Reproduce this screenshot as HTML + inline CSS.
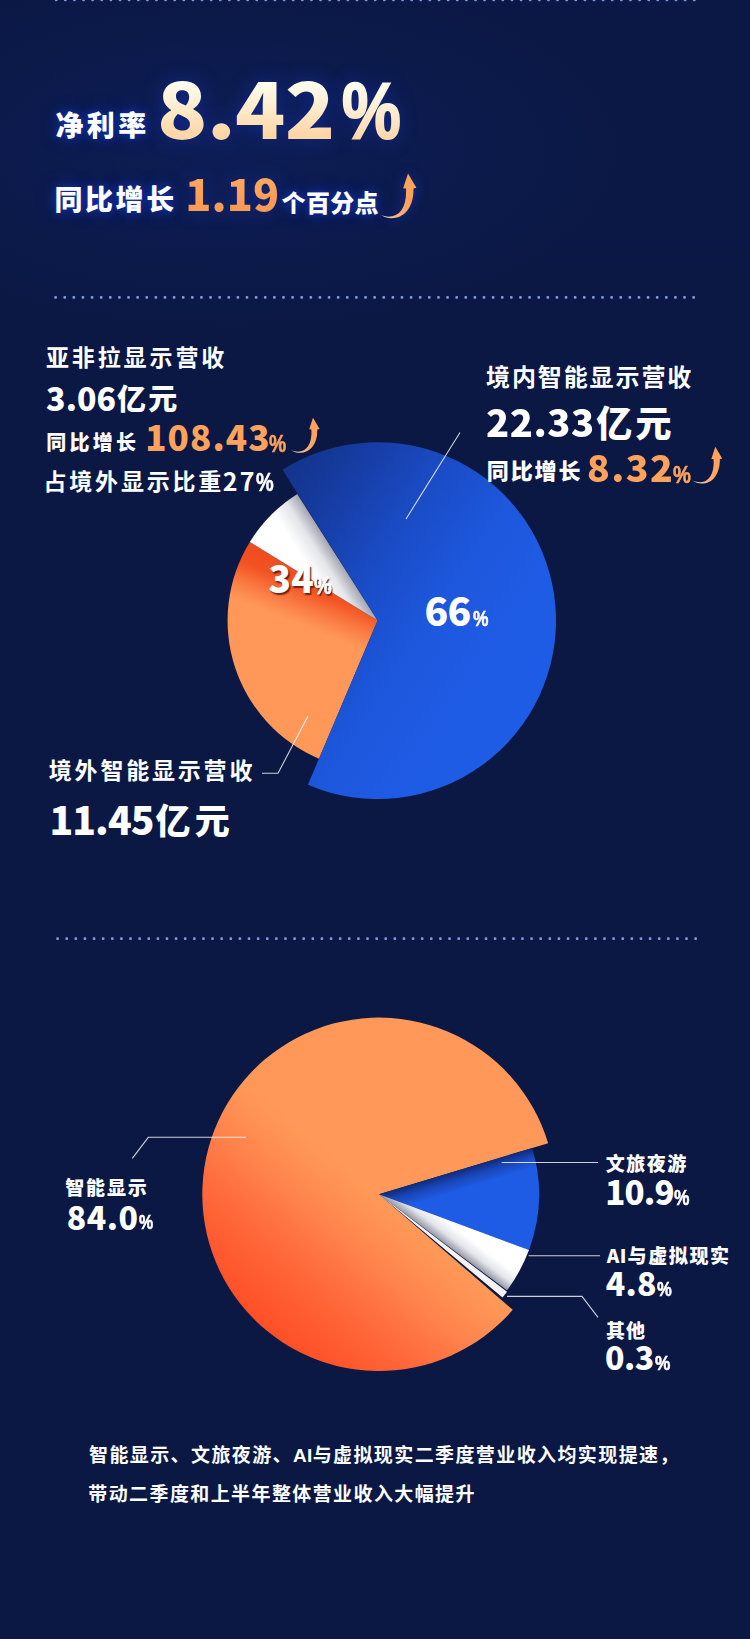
<!DOCTYPE html>
<html lang="zh-CN"><head><meta charset="utf-8"><title>数据图</title>
<style>
html,body{margin:0;padding:0}
body{width:750px;height:1639px;position:relative;overflow:hidden;background:#0b1844;font-family:"Liberation Sans","Noto Sans CJK SC",sans-serif;color:#fff}
.bg{position:absolute;left:0;top:0;width:750px;height:1639px;background:
 radial-gradient(ellipse 400px 180px at 230px 150px, rgba(22,50,150,0.2), rgba(22,50,150,0) 100%),
 linear-gradient(180deg,#0b1845 0%,#0b1844 50%,#0b1844 100%)}
.t{position:absolute;white-space:nowrap;line-height:1;font-weight:700}
.d{font-family:"Noto Sans CJK SC","Liberation Sans",sans-serif;font-weight:900}
.m{font-weight:500}
.k{font-weight:900}
.s1{-webkit-text-stroke:1px currentColor}
.s05{-webkit-text-stroke:0.5px currentColor}
.o{color:#ffa25c}
.glow{text-shadow:0 0 9px rgba(25,60,225,0.7),0 0 18px rgba(25,60,225,0.4)}
.big{background:linear-gradient(180deg,#fffdf0 18%,#ffeaca 55%,#ffd6a6 88%);-webkit-background-clip:text;background-clip:text;color:transparent;filter:drop-shadow(0 0 10px rgba(25,60,225,0.4))}
.og{filter:drop-shadow(0 0 9px rgba(25,60,225,0.4));background:linear-gradient(180deg,#ffa860 10%,#fb9a55 90%);-webkit-background-clip:text;background-clip:text;color:transparent}
.sh{text-shadow:1.5px 2px 1.2px rgba(90,25,10,0.85)}
</style></head><body>
<div class="bg"></div>
<svg width="750" height="1639" viewBox="0 0 750 1639" style="position:absolute;left:0;top:0">
<defs>
<linearGradient id="g1b" gradientUnits="userSpaceOnUse" x1="255.0" y1="465.0" x2="520.0" y2="640.0"><stop offset="0" stop-color="#122e86"/><stop offset="0.12" stop-color="#14358f"/><stop offset="0.3" stop-color="#173fa9"/><stop offset="0.48" stop-color="#1a4bc4"/><stop offset="0.72" stop-color="#1d57dc"/><stop offset="1" stop-color="#1f5ce6"/></linearGradient>
<linearGradient id="g1o" gradientUnits="userSpaceOnUse" x1="388.7" y1="592.8" x2="365.7" y2="650.3"><stop offset="0" stop-color="#ee481d"/><stop offset="0.42" stop-color="#f25323"/><stop offset="0.72" stop-color="#fa7a42"/><stop offset="1" stop-color="#ff9858"/></linearGradient>
<linearGradient id="g1w" gradientUnits="userSpaceOnUse" x1="377.6" y1="620.6" x2="352.3" y2="636.7"><stop offset="0" stop-color="#a3a5b0"/><stop offset="0.45" stop-color="#e4e5ea"/><stop offset="1" stop-color="#ffffff"/></linearGradient>
<linearGradient id="g2o" gradientUnits="userSpaceOnUse" x1="379.0" y1="1194.3" x2="262.0" y2="1331.0"><stop offset="0" stop-color="#ff9858"/><stop offset="0.06" stop-color="#ff9656"/><stop offset="0.28" stop-color="#ff864e"/><stop offset="0.52" stop-color="#ff6f3f"/><stop offset="0.8" stop-color="#ff5a30"/><stop offset="1" stop-color="#ff4e25"/></linearGradient>
<linearGradient id="g2b" gradientUnits="userSpaceOnUse" x1="379.0" y1="1194.3" x2="384.8" y2="1213.4"><stop offset="0" stop-color="#0f2a78"/><stop offset="0.45" stop-color="#1947ba"/><stop offset="1" stop-color="#1f5ce6"/></linearGradient>
<linearGradient id="g2w" gradientUnits="userSpaceOnUse" x1="379.0" y1="1194.3" x2="390.4" y2="1179.1"><stop offset="0" stop-color="#9799a5"/><stop offset="0.45" stop-color="#e3e4ea"/><stop offset="1" stop-color="#ffffff"/></linearGradient>
<linearGradient id="arr" gradientUnits="userSpaceOnUse" x1="0" y1="0" x2="30" y2="-10"><stop offset="0" stop-color="#fff0e4"/><stop offset="0.45" stop-color="#ffb57c"/><stop offset="1" stop-color="#ffa25c"/></linearGradient>
</defs>
<g fill="#7f98e2"><rect x="54.85" y="-1.55" width="2.7" height="2.7" rx="0.9"/><rect x="63.96" y="-1.55" width="2.7" height="2.7" rx="0.9"/><rect x="73.08" y="-1.55" width="2.7" height="2.7" rx="0.9"/><rect x="82.20" y="-1.55" width="2.7" height="2.7" rx="0.9"/><rect x="91.31" y="-1.55" width="2.7" height="2.7" rx="0.9"/><rect x="100.43" y="-1.55" width="2.7" height="2.7" rx="0.9"/><rect x="109.54" y="-1.55" width="2.7" height="2.7" rx="0.9"/><rect x="118.66" y="-1.55" width="2.7" height="2.7" rx="0.9"/><rect x="127.77" y="-1.55" width="2.7" height="2.7" rx="0.9"/><rect x="136.89" y="-1.55" width="2.7" height="2.7" rx="0.9"/><rect x="146.00" y="-1.55" width="2.7" height="2.7" rx="0.9"/><rect x="155.12" y="-1.55" width="2.7" height="2.7" rx="0.9"/><rect x="164.23" y="-1.55" width="2.7" height="2.7" rx="0.9"/><rect x="173.34" y="-1.55" width="2.7" height="2.7" rx="0.9"/><rect x="182.46" y="-1.55" width="2.7" height="2.7" rx="0.9"/><rect x="191.58" y="-1.55" width="2.7" height="2.7" rx="0.9"/><rect x="200.69" y="-1.55" width="2.7" height="2.7" rx="0.9"/><rect x="209.81" y="-1.55" width="2.7" height="2.7" rx="0.9"/><rect x="218.92" y="-1.55" width="2.7" height="2.7" rx="0.9"/><rect x="228.03" y="-1.55" width="2.7" height="2.7" rx="0.9"/><rect x="237.15" y="-1.55" width="2.7" height="2.7" rx="0.9"/><rect x="246.27" y="-1.55" width="2.7" height="2.7" rx="0.9"/><rect x="255.38" y="-1.55" width="2.7" height="2.7" rx="0.9"/><rect x="264.50" y="-1.55" width="2.7" height="2.7" rx="0.9"/><rect x="273.61" y="-1.55" width="2.7" height="2.7" rx="0.9"/><rect x="282.72" y="-1.55" width="2.7" height="2.7" rx="0.9"/><rect x="291.84" y="-1.55" width="2.7" height="2.7" rx="0.9"/><rect x="300.95" y="-1.55" width="2.7" height="2.7" rx="0.9"/><rect x="310.07" y="-1.55" width="2.7" height="2.7" rx="0.9"/><rect x="319.18" y="-1.55" width="2.7" height="2.7" rx="0.9"/><rect x="328.30" y="-1.55" width="2.7" height="2.7" rx="0.9"/><rect x="337.41" y="-1.55" width="2.7" height="2.7" rx="0.9"/><rect x="346.53" y="-1.55" width="2.7" height="2.7" rx="0.9"/><rect x="355.64" y="-1.55" width="2.7" height="2.7" rx="0.9"/><rect x="364.76" y="-1.55" width="2.7" height="2.7" rx="0.9"/><rect x="373.88" y="-1.55" width="2.7" height="2.7" rx="0.9"/><rect x="382.99" y="-1.55" width="2.7" height="2.7" rx="0.9"/><rect x="392.10" y="-1.55" width="2.7" height="2.7" rx="0.9"/><rect x="401.22" y="-1.55" width="2.7" height="2.7" rx="0.9"/><rect x="410.33" y="-1.55" width="2.7" height="2.7" rx="0.9"/><rect x="419.45" y="-1.55" width="2.7" height="2.7" rx="0.9"/><rect x="428.56" y="-1.55" width="2.7" height="2.7" rx="0.9"/><rect x="437.68" y="-1.55" width="2.7" height="2.7" rx="0.9"/><rect x="446.79" y="-1.55" width="2.7" height="2.7" rx="0.9"/><rect x="455.91" y="-1.55" width="2.7" height="2.7" rx="0.9"/><rect x="465.02" y="-1.55" width="2.7" height="2.7" rx="0.9"/><rect x="474.14" y="-1.55" width="2.7" height="2.7" rx="0.9"/><rect x="483.25" y="-1.55" width="2.7" height="2.7" rx="0.9"/><rect x="492.37" y="-1.55" width="2.7" height="2.7" rx="0.9"/><rect x="501.48" y="-1.55" width="2.7" height="2.7" rx="0.9"/><rect x="510.60" y="-1.55" width="2.7" height="2.7" rx="0.9"/><rect x="519.72" y="-1.55" width="2.7" height="2.7" rx="0.9"/><rect x="528.83" y="-1.55" width="2.7" height="2.7" rx="0.9"/><rect x="537.95" y="-1.55" width="2.7" height="2.7" rx="0.9"/><rect x="547.06" y="-1.55" width="2.7" height="2.7" rx="0.9"/><rect x="556.17" y="-1.55" width="2.7" height="2.7" rx="0.9"/><rect x="565.29" y="-1.55" width="2.7" height="2.7" rx="0.9"/><rect x="574.41" y="-1.55" width="2.7" height="2.7" rx="0.9"/><rect x="583.52" y="-1.55" width="2.7" height="2.7" rx="0.9"/><rect x="592.63" y="-1.55" width="2.7" height="2.7" rx="0.9"/><rect x="601.75" y="-1.55" width="2.7" height="2.7" rx="0.9"/><rect x="610.87" y="-1.55" width="2.7" height="2.7" rx="0.9"/><rect x="619.98" y="-1.55" width="2.7" height="2.7" rx="0.9"/><rect x="629.10" y="-1.55" width="2.7" height="2.7" rx="0.9"/><rect x="638.21" y="-1.55" width="2.7" height="2.7" rx="0.9"/><rect x="647.33" y="-1.55" width="2.7" height="2.7" rx="0.9"/><rect x="656.44" y="-1.55" width="2.7" height="2.7" rx="0.9"/><rect x="665.56" y="-1.55" width="2.7" height="2.7" rx="0.9"/><rect x="674.67" y="-1.55" width="2.7" height="2.7" rx="0.9"/><rect x="683.79" y="-1.55" width="2.7" height="2.7" rx="0.9"/><rect x="692.90" y="-1.55" width="2.7" height="2.7" rx="0.9"/></g>
<g fill="#7f98e2"><rect x="54.25" y="296.05" width="2.7" height="2.7" rx="0.9"/><rect x="63.37" y="296.05" width="2.7" height="2.7" rx="0.9"/><rect x="72.48" y="296.05" width="2.7" height="2.7" rx="0.9"/><rect x="81.59" y="296.05" width="2.7" height="2.7" rx="0.9"/><rect x="90.71" y="296.05" width="2.7" height="2.7" rx="0.9"/><rect x="99.83" y="296.05" width="2.7" height="2.7" rx="0.9"/><rect x="108.94" y="296.05" width="2.7" height="2.7" rx="0.9"/><rect x="118.06" y="296.05" width="2.7" height="2.7" rx="0.9"/><rect x="127.17" y="296.05" width="2.7" height="2.7" rx="0.9"/><rect x="136.28" y="296.05" width="2.7" height="2.7" rx="0.9"/><rect x="145.40" y="296.05" width="2.7" height="2.7" rx="0.9"/><rect x="154.52" y="296.05" width="2.7" height="2.7" rx="0.9"/><rect x="163.63" y="296.05" width="2.7" height="2.7" rx="0.9"/><rect x="172.75" y="296.05" width="2.7" height="2.7" rx="0.9"/><rect x="181.86" y="296.05" width="2.7" height="2.7" rx="0.9"/><rect x="190.97" y="296.05" width="2.7" height="2.7" rx="0.9"/><rect x="200.09" y="296.05" width="2.7" height="2.7" rx="0.9"/><rect x="209.21" y="296.05" width="2.7" height="2.7" rx="0.9"/><rect x="218.32" y="296.05" width="2.7" height="2.7" rx="0.9"/><rect x="227.44" y="296.05" width="2.7" height="2.7" rx="0.9"/><rect x="236.55" y="296.05" width="2.7" height="2.7" rx="0.9"/><rect x="245.66" y="296.05" width="2.7" height="2.7" rx="0.9"/><rect x="254.78" y="296.05" width="2.7" height="2.7" rx="0.9"/><rect x="263.89" y="296.05" width="2.7" height="2.7" rx="0.9"/><rect x="273.01" y="296.05" width="2.7" height="2.7" rx="0.9"/><rect x="282.12" y="296.05" width="2.7" height="2.7" rx="0.9"/><rect x="291.24" y="296.05" width="2.7" height="2.7" rx="0.9"/><rect x="300.36" y="296.05" width="2.7" height="2.7" rx="0.9"/><rect x="309.47" y="296.05" width="2.7" height="2.7" rx="0.9"/><rect x="318.58" y="296.05" width="2.7" height="2.7" rx="0.9"/><rect x="327.70" y="296.05" width="2.7" height="2.7" rx="0.9"/><rect x="336.81" y="296.05" width="2.7" height="2.7" rx="0.9"/><rect x="345.93" y="296.05" width="2.7" height="2.7" rx="0.9"/><rect x="355.05" y="296.05" width="2.7" height="2.7" rx="0.9"/><rect x="364.16" y="296.05" width="2.7" height="2.7" rx="0.9"/><rect x="373.28" y="296.05" width="2.7" height="2.7" rx="0.9"/><rect x="382.39" y="296.05" width="2.7" height="2.7" rx="0.9"/><rect x="391.50" y="296.05" width="2.7" height="2.7" rx="0.9"/><rect x="400.62" y="296.05" width="2.7" height="2.7" rx="0.9"/><rect x="409.74" y="296.05" width="2.7" height="2.7" rx="0.9"/><rect x="418.85" y="296.05" width="2.7" height="2.7" rx="0.9"/><rect x="427.97" y="296.05" width="2.7" height="2.7" rx="0.9"/><rect x="437.08" y="296.05" width="2.7" height="2.7" rx="0.9"/><rect x="446.19" y="296.05" width="2.7" height="2.7" rx="0.9"/><rect x="455.31" y="296.05" width="2.7" height="2.7" rx="0.9"/><rect x="464.43" y="296.05" width="2.7" height="2.7" rx="0.9"/><rect x="473.54" y="296.05" width="2.7" height="2.7" rx="0.9"/><rect x="482.66" y="296.05" width="2.7" height="2.7" rx="0.9"/><rect x="491.77" y="296.05" width="2.7" height="2.7" rx="0.9"/><rect x="500.88" y="296.05" width="2.7" height="2.7" rx="0.9"/><rect x="510.00" y="296.05" width="2.7" height="2.7" rx="0.9"/><rect x="519.12" y="296.05" width="2.7" height="2.7" rx="0.9"/><rect x="528.23" y="296.05" width="2.7" height="2.7" rx="0.9"/><rect x="537.35" y="296.05" width="2.7" height="2.7" rx="0.9"/><rect x="546.46" y="296.05" width="2.7" height="2.7" rx="0.9"/><rect x="555.57" y="296.05" width="2.7" height="2.7" rx="0.9"/><rect x="564.69" y="296.05" width="2.7" height="2.7" rx="0.9"/><rect x="573.81" y="296.05" width="2.7" height="2.7" rx="0.9"/><rect x="582.92" y="296.05" width="2.7" height="2.7" rx="0.9"/><rect x="592.03" y="296.05" width="2.7" height="2.7" rx="0.9"/><rect x="601.15" y="296.05" width="2.7" height="2.7" rx="0.9"/><rect x="610.26" y="296.05" width="2.7" height="2.7" rx="0.9"/><rect x="619.38" y="296.05" width="2.7" height="2.7" rx="0.9"/><rect x="628.50" y="296.05" width="2.7" height="2.7" rx="0.9"/><rect x="637.61" y="296.05" width="2.7" height="2.7" rx="0.9"/><rect x="646.73" y="296.05" width="2.7" height="2.7" rx="0.9"/><rect x="655.84" y="296.05" width="2.7" height="2.7" rx="0.9"/><rect x="664.96" y="296.05" width="2.7" height="2.7" rx="0.9"/><rect x="674.07" y="296.05" width="2.7" height="2.7" rx="0.9"/><rect x="683.19" y="296.05" width="2.7" height="2.7" rx="0.9"/><rect x="692.30" y="296.05" width="2.7" height="2.7" rx="0.9"/></g>
<g fill="#7f98e2"><rect x="56.25" y="937.25" width="2.7" height="2.7" rx="0.9"/><rect x="65.37" y="937.25" width="2.7" height="2.7" rx="0.9"/><rect x="74.48" y="937.25" width="2.7" height="2.7" rx="0.9"/><rect x="83.59" y="937.25" width="2.7" height="2.7" rx="0.9"/><rect x="92.71" y="937.25" width="2.7" height="2.7" rx="0.9"/><rect x="101.83" y="937.25" width="2.7" height="2.7" rx="0.9"/><rect x="110.94" y="937.25" width="2.7" height="2.7" rx="0.9"/><rect x="120.06" y="937.25" width="2.7" height="2.7" rx="0.9"/><rect x="129.17" y="937.25" width="2.7" height="2.7" rx="0.9"/><rect x="138.28" y="937.25" width="2.7" height="2.7" rx="0.9"/><rect x="147.40" y="937.25" width="2.7" height="2.7" rx="0.9"/><rect x="156.52" y="937.25" width="2.7" height="2.7" rx="0.9"/><rect x="165.63" y="937.25" width="2.7" height="2.7" rx="0.9"/><rect x="174.75" y="937.25" width="2.7" height="2.7" rx="0.9"/><rect x="183.86" y="937.25" width="2.7" height="2.7" rx="0.9"/><rect x="192.97" y="937.25" width="2.7" height="2.7" rx="0.9"/><rect x="202.09" y="937.25" width="2.7" height="2.7" rx="0.9"/><rect x="211.21" y="937.25" width="2.7" height="2.7" rx="0.9"/><rect x="220.32" y="937.25" width="2.7" height="2.7" rx="0.9"/><rect x="229.44" y="937.25" width="2.7" height="2.7" rx="0.9"/><rect x="238.55" y="937.25" width="2.7" height="2.7" rx="0.9"/><rect x="247.66" y="937.25" width="2.7" height="2.7" rx="0.9"/><rect x="256.78" y="937.25" width="2.7" height="2.7" rx="0.9"/><rect x="265.89" y="937.25" width="2.7" height="2.7" rx="0.9"/><rect x="275.01" y="937.25" width="2.7" height="2.7" rx="0.9"/><rect x="284.12" y="937.25" width="2.7" height="2.7" rx="0.9"/><rect x="293.24" y="937.25" width="2.7" height="2.7" rx="0.9"/><rect x="302.36" y="937.25" width="2.7" height="2.7" rx="0.9"/><rect x="311.47" y="937.25" width="2.7" height="2.7" rx="0.9"/><rect x="320.58" y="937.25" width="2.7" height="2.7" rx="0.9"/><rect x="329.70" y="937.25" width="2.7" height="2.7" rx="0.9"/><rect x="338.81" y="937.25" width="2.7" height="2.7" rx="0.9"/><rect x="347.93" y="937.25" width="2.7" height="2.7" rx="0.9"/><rect x="357.05" y="937.25" width="2.7" height="2.7" rx="0.9"/><rect x="366.16" y="937.25" width="2.7" height="2.7" rx="0.9"/><rect x="375.28" y="937.25" width="2.7" height="2.7" rx="0.9"/><rect x="384.39" y="937.25" width="2.7" height="2.7" rx="0.9"/><rect x="393.50" y="937.25" width="2.7" height="2.7" rx="0.9"/><rect x="402.62" y="937.25" width="2.7" height="2.7" rx="0.9"/><rect x="411.74" y="937.25" width="2.7" height="2.7" rx="0.9"/><rect x="420.85" y="937.25" width="2.7" height="2.7" rx="0.9"/><rect x="429.97" y="937.25" width="2.7" height="2.7" rx="0.9"/><rect x="439.08" y="937.25" width="2.7" height="2.7" rx="0.9"/><rect x="448.19" y="937.25" width="2.7" height="2.7" rx="0.9"/><rect x="457.31" y="937.25" width="2.7" height="2.7" rx="0.9"/><rect x="466.43" y="937.25" width="2.7" height="2.7" rx="0.9"/><rect x="475.54" y="937.25" width="2.7" height="2.7" rx="0.9"/><rect x="484.66" y="937.25" width="2.7" height="2.7" rx="0.9"/><rect x="493.77" y="937.25" width="2.7" height="2.7" rx="0.9"/><rect x="502.88" y="937.25" width="2.7" height="2.7" rx="0.9"/><rect x="512.00" y="937.25" width="2.7" height="2.7" rx="0.9"/><rect x="521.12" y="937.25" width="2.7" height="2.7" rx="0.9"/><rect x="530.23" y="937.25" width="2.7" height="2.7" rx="0.9"/><rect x="539.35" y="937.25" width="2.7" height="2.7" rx="0.9"/><rect x="548.46" y="937.25" width="2.7" height="2.7" rx="0.9"/><rect x="557.57" y="937.25" width="2.7" height="2.7" rx="0.9"/><rect x="566.69" y="937.25" width="2.7" height="2.7" rx="0.9"/><rect x="575.81" y="937.25" width="2.7" height="2.7" rx="0.9"/><rect x="584.92" y="937.25" width="2.7" height="2.7" rx="0.9"/><rect x="594.03" y="937.25" width="2.7" height="2.7" rx="0.9"/><rect x="603.15" y="937.25" width="2.7" height="2.7" rx="0.9"/><rect x="612.26" y="937.25" width="2.7" height="2.7" rx="0.9"/><rect x="621.38" y="937.25" width="2.7" height="2.7" rx="0.9"/><rect x="630.50" y="937.25" width="2.7" height="2.7" rx="0.9"/><rect x="639.61" y="937.25" width="2.7" height="2.7" rx="0.9"/><rect x="648.73" y="937.25" width="2.7" height="2.7" rx="0.9"/><rect x="657.84" y="937.25" width="2.7" height="2.7" rx="0.9"/><rect x="666.96" y="937.25" width="2.7" height="2.7" rx="0.9"/><rect x="676.07" y="937.25" width="2.7" height="2.7" rx="0.9"/><rect x="685.19" y="937.25" width="2.7" height="2.7" rx="0.9"/><rect x="694.30" y="937.25" width="2.7" height="2.7" rx="0.9"/></g>
<path d="M377.60,620.60 L318.99,758.68 A150,150 0 0 1 249.84,542.00 Z" fill="url(#g1o)"/>
<path d="M377.60,620.60 L249.84,542.00 A150,150 0 0 1 297.23,493.95 Z" fill="url(#g1w)"/>
<path d="M377.60,620.60 L282.53,469.64 A178.4,178.4 0 1 1 307.89,784.82 Z" fill="url(#g1b)"/>
<path d="M379.00,1194.30 L512.76,1309.76 A176.7,176.7 0 1 1 548.16,1143.23 Z" fill="url(#g2o)"/>
<path d="M379.00,1194.30 L532.17,1148.05 A160,160 0 0 1 528.97,1250.07 Z" fill="url(#g2b)"/>
<path d="M379.00,1194.30 L528.97,1250.07 A160,160 0 0 1 506.95,1290.37 Z" fill="url(#g2w)"/>
<path d="M379.00,1194.30 L507.07,1291.86 A161,161 0 0 1 502.51,1297.57 Z" fill="#f4f4f6"/>
<g fill="none" stroke="#ffffff" stroke-width="1.1" stroke-opacity="0.8">
<path d="M406,519 L460,432.5"/>
<path d="M262,773.2 H278 L308,716"/>
<path d="M132.3,1158.3 L148.3,1137.3 H246"/>
<path d="M501.6,1162.5 H598"/>
<path d="M528.6,1255.7 H600"/>
<path d="M507,1296.4 H582 L598,1317.3"/>
</g>
<g style="filter:drop-shadow(0 0 6px rgba(25,60,225,0.6))"><path transform="translate(379.6,214.6) scale(1)" d="M0,0 C15.4,9.4 34.4,0.4 33.9,-26.1 L36.8,-26.8 L28.4,-41.2 L23.6,-26.4 L26.4,-26.1 C27.8,-2.6 15.4,6.6 0,0 Z" fill="url(#arr)"/></g>
<path transform="translate(290.7,450) scale(0.785)" d="M0,0 C15.4,9.4 34.4,0.4 33.9,-26.1 L36.8,-26.8 L28.4,-41.2 L23.6,-26.4 L26.4,-26.1 C27.8,-2.6 15.4,6.6 0,0 Z" fill="url(#arr)"/>
<path transform="translate(692,480.6) scale(0.82)" d="M0,0 C15.4,9.4 34.4,0.4 33.9,-26.1 L36.8,-26.8 L28.4,-41.2 L23.6,-26.4 L26.4,-26.1 C27.8,-2.6 15.4,6.6 0,0 Z" fill="url(#arr)"/>
</svg>
<div class="t k glow" style="left:55.4px;top:112.7px;font-size:28px;letter-spacing:3.4px;">净利率</div>
<div class="t d big" style="left:157.4px;top:67.8px;font-size:76px;letter-spacing:-0.7px;transform:scaleX(1.09);transform-origin:0 0;">8.42</div>
<div class="t big" style="left:341.7px;top:71.0px;font-size:80px;letter-spacing:0px;-webkit-text-stroke:2.2px transparent;transform:scaleX(0.826);transform-origin:0 0;">%</div>
<div class="t k glow" style="left:54.4px;top:187.3px;font-size:28px;letter-spacing:2.6px;">同比增长</div>
<div class="t d og" style="left:185.2px;top:171.0px;font-size:43px;letter-spacing:0.1px;">1.19</div>
<div class="t k glow" style="left:281.6px;top:192.2px;font-size:24px;letter-spacing:0.3px;">个百分点</div>
<div class="t " style="left:45.9px;top:346.9px;font-size:23px;letter-spacing:2.9px;">亚非拉显示营收</div>
<div class="t d" style="left:46.1px;top:380.6px;font-size:32px;letter-spacing:0.1px;">3.06</div>
<div class="t k" style="left:117.1px;top:386.0px;font-size:29px;letter-spacing:2.2px;">亿元</div>
<div class="t k" style="left:46.2px;top:433.1px;font-size:20px;letter-spacing:3.3px;">同比增长</div>
<div class="t d o" style="left:145.2px;top:418.1px;font-size:35px;letter-spacing:1.1px;">108.43</div>
<div class="t o" style="left:269.3px;top:432.5px;font-size:23px;letter-spacing:0px;-webkit-text-stroke:0.6px #ffa25c;transform:scaleX(0.84);transform-origin:0 0;">%</div>
<div class="t " style="left:43.5px;top:470.9px;font-size:23px;letter-spacing:2.8px;">占境外显示比重</div>
<div class="t d" style="left:222.7px;top:467.8px;font-size:25px;letter-spacing:2.3px;font-weight:700;">27</div>
<div class="t " style="left:255.5px;top:468.8px;font-size:26px;letter-spacing:0px;-webkit-text-stroke:0.6px #fff;transform:scaleX(0.765);transform-origin:0 0;">%</div>
<div class="t " style="left:486.0px;top:366.4px;font-size:24px;letter-spacing:1.9px;">境内智能显示营收</div>
<div class="t d" style="left:486.4px;top:403.0px;font-size:37px;letter-spacing:0.5px;transform:scaleX(1.03);transform-origin:0 0;">22.33</div>
<div class="t k" style="left:596.3px;top:406.9px;font-size:36px;letter-spacing:3.2px;">亿元</div>
<div class="t k" style="left:486.8px;top:460.7px;font-size:22px;letter-spacing:1.9px;">同比增长</div>
<div class="t d o" style="left:586.6px;top:448.3px;font-size:36px;letter-spacing:1.4px;transform:scaleX(1.04);transform-origin:0 0;">8.32</div>
<div class="t o" style="left:672.7px;top:462.5px;font-size:24px;letter-spacing:0px;-webkit-text-stroke:0.6px #ffa25c;transform:scaleX(0.838);transform-origin:0 0;">%</div>
<div class="t d sh" style="left:268.5px;top:558.8px;font-size:37px;letter-spacing:0.2px;">34</div>
<div class="t sh" style="left:313.8px;top:574.5px;font-size:23px;letter-spacing:0px;-webkit-text-stroke:0.6px #fff;transform:scaleX(0.87);transform-origin:0 0;">%</div>
<div class="t d" style="left:424.5px;top:589.9px;font-size:39px;letter-spacing:-0.8px;">66</div>
<div class="t " style="left:472.6px;top:607.9px;font-size:22px;letter-spacing:0px;-webkit-text-stroke:0.6px #fff;transform:scaleX(0.789);transform-origin:0 0;">%</div>
<div class="t " style="left:48.8px;top:760.3px;font-size:23px;letter-spacing:2.8px;">境外智能显示营收</div>
<div class="t d" style="left:49.4px;top:799.4px;font-size:39px;letter-spacing:-0.9px;">11.45</div>
<div class="t k" style="left:155.6px;top:804.0px;font-size:35px;letter-spacing:4.2px;">亿元</div>
<div class="t k" style="left:65.3px;top:1179.0px;font-size:19px;letter-spacing:1.8px;">智能显示</div>
<div class="t d" style="left:66.7px;top:1199.5px;font-size:32px;letter-spacing:0.5px;">84.0</div>
<div class="t " style="left:138.6px;top:1211.2px;font-size:21px;letter-spacing:0px;-webkit-text-stroke:0.6px #fff;transform:scaleX(0.758);transform-origin:0 0;">%</div>
<div class="t k" style="left:605.8px;top:1155.3px;font-size:19px;letter-spacing:1.5px;">文旅夜游</div>
<div class="t d" style="left:605.2px;top:1174.8px;font-size:33px;letter-spacing:-0.8px;">10.9</div>
<div class="t " style="left:674.0px;top:1186.8px;font-size:22px;letter-spacing:0px;-webkit-text-stroke:0.6px #fff;transform:scaleX(0.789);transform-origin:0 0;">%</div>
<div class="t k" style="left:606.8px;top:1245.0px;font-size:19px;letter-spacing:1.6px;"><span style="font-family:'Noto Sans CJK SC',sans-serif;letter-spacing:0.3px;margin-right:1px">AI</span>与虚拟现实</div>
<div class="t d" style="left:605.8px;top:1266.0px;font-size:32px;letter-spacing:0.2px;">4.8</div>
<div class="t " style="left:657.0px;top:1278.0px;font-size:21px;letter-spacing:0px;-webkit-text-stroke:0.6px #fff;transform:scaleX(0.789);transform-origin:0 0;">%</div>
<div class="t k" style="left:606.0px;top:1321.8px;font-size:19px;letter-spacing:1.0px;">其他</div>
<div class="t d" style="left:605.0px;top:1339.8px;font-size:32px;letter-spacing:-0.5px;">0.3</div>
<div class="t " style="left:655.0px;top:1351.8px;font-size:21px;letter-spacing:0px;-webkit-text-stroke:0.6px #fff;transform:scaleX(0.821);transform-origin:0 0;">%</div>
<div class="t " style="left:89.0px;top:1445.8px;font-size:19px;letter-spacing:1.4px;">智能显示、文旅夜游、<span style="letter-spacing:0.3px">AI</span>与虚拟现实二季度营业收入均实现提速，</div>
<div class="t " style="left:88.3px;top:1484.7px;font-size:19px;letter-spacing:1.4px;">带动二季度和上半年整体营业收入大幅提升</div>
</body></html>
